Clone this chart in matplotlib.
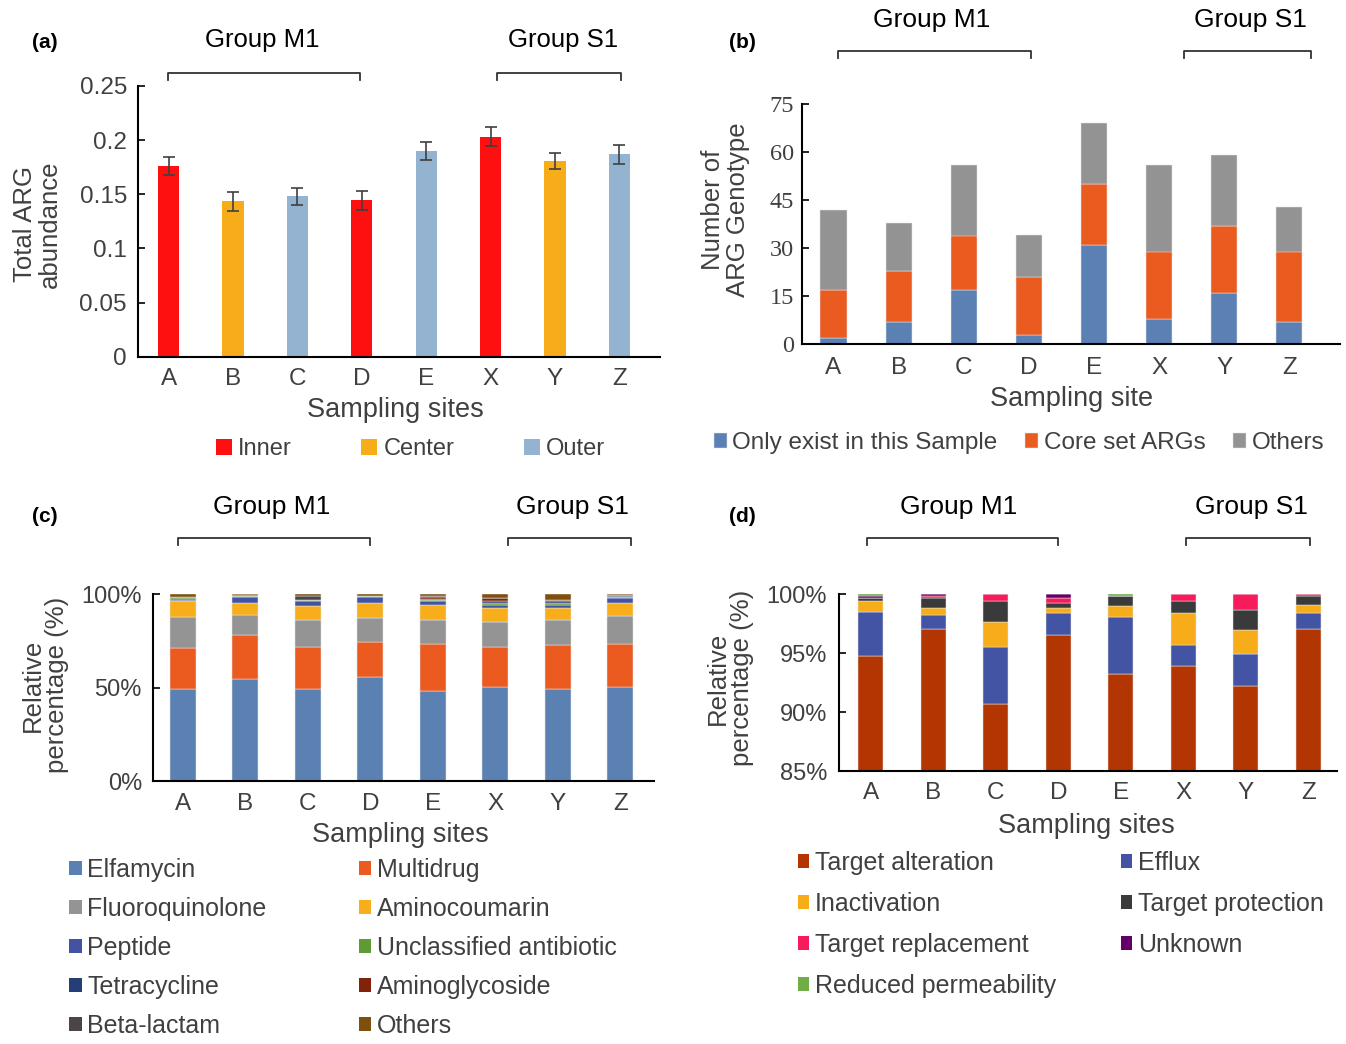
import matplotlib
matplotlib.use('Agg')
import matplotlib.pyplot as plt
from matplotlib.patches import Patch
from matplotlib.lines import Line2D
from matplotlib.transforms import blended_transform_factory
from matplotlib.ticker import FuncFormatter

plt.rcParams['font.family'] = ['Liberation Sans', 'DejaVu Sans']

W, H = 1346, 1044

# ---------------- data ----------------
sites = ['A', 'B', 'C', 'D', 'E', 'X', 'Y', 'Z']
group_names = ['Group M1', 'Group S1']

# (a) total ARG abundance
abundance = [0.176, 0.1435, 0.148, 0.1444, 0.190, 0.203, 0.1806, 0.187]
abundance_err = [0.0086, 0.0086, 0.008, 0.0088, 0.0079, 0.0088, 0.0077, 0.0086]
zone = ['Inner', 'Center', 'Outer', 'Inner', 'Outer', 'Inner', 'Center', 'Outer']
zone_names = ['Inner', 'Center', 'Outer']
zone_colors = ['#FF1010', '#F7AC1A', '#93B3D0']

# (b) number of ARG genotypes
only_exist = [2, 7, 17, 3, 31, 8, 16, 7]
core_set = [15, 16, 17, 18, 19, 21, 21, 22]
others_b = [25, 15, 22, 13, 19, 27, 22, 14]
b_names = ['Only exist in this Sample', 'Core set ARGs', 'Others']
b_colors = ['#5A80B4', '#EA5B20', '#939393']

# (c) relative percentage by drug class (%)
elfamycin = [49.5, 54.8, 49.5, 55.9, 48.4, 50.5, 49.5, 50.5]
multidrug = [21.6, 23.4, 22.5, 18.7, 25.2, 21.5, 23.4, 23.1]
fluoroquinolone = [16.9, 10.9, 14.4, 12.7, 12.8, 13.4, 13.5, 14.6]
aminocoumarin = [8.2, 6.3, 7.2, 8.1, 8.1, 7.3, 6.3, 7.2]
peptide = [0.8, 3.0, 3.0, 3.0, 1.8, 1.8, 1.8, 2.8]
unclassified = [0.9, 0.6, 0.2, 0.5, 0.8, 0.9, 0.9, 0.2]
tetracycline = [0.4, 0.2, 0.3, 0.2, 0.6, 0.9, 0.9, 0.6]
aminoglycoside = [0.2, 0.1, 0.1, 0.1, 1.0, 1.7, 0.8, 0.5]
beta_lactam = [0.3, 0.1, 1.7, 0.1, 0.2, 0.1, 0.1, 0.1]
others_c = [1.2, 0.6, 1.1, 0.7, 1.1, 1.9, 2.8, 0.4]
c_names = ['Elfamycin', 'Multidrug', 'Fluoroquinolone', 'Aminocoumarin', 'Peptide',
           'Unclassified antibiotic', 'Tetracycline', 'Aminoglycoside', 'Beta-lactam', 'Others']
c_colors = ['#5B81B3', '#EB5B20', '#949494', '#F8AE1B', '#4353A3',
            '#5F9B35', '#253E78', '#80230A', '#4B4448', '#7F4F0E']

# (d) relative percentage by resistance mechanism (%)
target_alteration = [94.8, 97.1, 90.7, 96.55, 93.25, 93.9, 92.25, 97.1]
efflux = [3.7, 1.15, 4.85, 1.85, 4.8, 1.8, 2.7, 1.3]
inactivation = [0.9, 0.6, 2.1, 0.44, 1.0, 2.7, 2.05, 0.72]
target_protection = [0.3, 0.85, 1.75, 0.43, 0.8, 1.0, 1.7, 0.72]
target_replacement = [0.0, 0.2, 0.6, 0.42, 0.0, 0.6, 1.3, 0.16]
unknown = [0.2, 0.1, 0.0, 0.31, 0.0, 0.0, 0.0, 0.0]
reduced_permeability = [0.1, 0.0, 0.0, 0.0, 0.15, 0.0, 0.0, 0.0]
d_names = ['Target alteration', 'Efflux', 'Inactivation', 'Target protection',
           'Target replacement', 'Unknown', 'Reduced permeability']
d_colors = ['#B33502', '#4254A3', '#F7AC1A', '#3A3A3A', '#F71B5B', '#630067', '#6FAD46']

TXT = '#404040'

fig = plt.figure(figsize=(W / 100, H / 100), dpi=100)


def px_axes(l, r, t, b):
    return fig.add_axes([l / W, 1 - b / H, (r - l) / W, (b - t) / H])


def fx(x):
    return x / W


def fy(y):
    return 1 - y / H


def style_axes(ax, ypad, xpad, ysize=17.5, xsize=17.5):
    for s in ['top', 'right']:
        ax.spines[s].set_visible(False)
    for s in ['left', 'bottom']:
        ax.spines[s].set_linewidth(1.5)
        ax.spines[s].set_color('black')
    ax.tick_params(axis='y', direction='in', length=5, width=1.2, pad=ypad,
                   labelsize=ysize, labelcolor=TXT)
    ax.tick_params(axis='x', length=0, pad=xpad, labelsize=xsize, labelcolor=TXT)


def decorate(ax, label, label_xy, brackets, text_x, brk_y, txt_y, xlabel, xlabel_xy,
             ylabel, ylabel_xy, gsize=18.5):
    fig.text(fx(label_xy[0]), fy(label_xy[1]), label, fontsize=15, fontweight='bold',
             ha='left', va='center', color='black')
    trans = blended_transform_factory(ax.transData, fig.transFigure)
    for (i0, i1), tx, name in zip(brackets, text_x, group_names):
        yb = fy(brk_y)
        yt = fy(brk_y + 7)
        ln = Line2D([i0, i0, i1, i1], [yt, yb, yb, yt], transform=trans,
                    color='#333333', lw=1.3, clip_on=False)
        ax.add_line(ln)
        ax.text(tx, fy(txt_y), name, transform=trans, ha='center',
                va='baseline', fontsize=gsize, color='black', clip_on=False)
    ax.set_xlabel(xlabel, fontsize=19.5, color=TXT)
    ax.xaxis.set_label_coords(fx(xlabel_xy[0]), fy(xlabel_xy[1]), transform=fig.transFigure)
    ax.xaxis.label.set_verticalalignment('baseline')
    ax.set_ylabel(ylabel, fontsize=18.5, color=TXT, linespacing=1.05)
    ax.yaxis.set_label_coords(fx(ylabel_xy[0]), fy(ylabel_xy[1]), transform=fig.transFigure)
    ax.yaxis.label.set_verticalalignment('center')


x = list(range(len(sites)))
EDGE = dict(edgecolor='#E6E6E6', linewidth=0.35)

# ---------------- (a) ----------------
axa = px_axes(138, 660, 86, 356.7)
cols_a = [zone_colors[zone_names.index(z)] for z in zone]
axa.bar(x, abundance, width=0.33, color=cols_a, zorder=2)
axa.errorbar(x, abundance, yerr=abundance_err, fmt='none', ecolor='#404040',
             elinewidth=1.2, capsize=4, capthick=1.2, zorder=3)
axa.set_xlim(-0.474, 7.63)
axa.set_ylim(0, 0.25)
axa.set_yticks([0, 0.05, 0.1, 0.15, 0.2, 0.25])
axa.set_yticklabels(['0', '0.05', '0.1', '0.15', '0.2', '0.25'])
axa.set_xticks(x)
axa.set_xticklabels(sites)
style_axes(axa, ypad=8, xpad=8)
decorate(axa, '(a)', (32, 42), [(-0.01, 2.97), (5.10, 7.03)], [1.46, 6.12], 73, 47,
         'Sampling sites', (395, 417), 'Total ARG\nabundance', (37.5, 224))
hand_a = [Patch(facecolor=c, edgecolor='none') for c in zone_colors]
axa.legend(hand_a, zone_names, loc='center left', bbox_to_anchor=(fx(216), fy(449)),
           bbox_transform=fig.transFigure, ncol=3, frameon=False, fontsize=17,
           handlelength=0.68, handleheight=0.68, handletextpad=0.25,
           columnspacing=2.95, borderpad=0, borderaxespad=0, labelcolor=TXT)

# ---------------- (b) ----------------
axb = px_axes(802, 1340, 104.3, 344.3)
bottom = [0] * len(sites)
for vals, col, name in zip([only_exist, core_set, others_b], b_colors, b_names):
    axb.bar(x, vals, bottom=bottom, width=0.4, color=col, label=name, zorder=2, **EDGE)
    bottom = [b + v for b, v in zip(bottom, vals)]
axb.set_xlim(-0.484, 7.78)
axb.set_ylim(0, 75)
axb.set_yticks([0, 15, 30, 45, 60, 75])
axb.set_xticks(x)
axb.set_xticklabels(sites)
style_axes(axb, ypad=5.5, xpad=9, ysize=17.5)
for lbl in axb.get_yticklabels():
    lbl.set_fontfamily(['Liberation Serif', 'DejaVu Serif'])
decorate(axb, '(b)', (729, 42), [(0.07, 3.03), (5.38, 7.33)], [1.5, 6.4], 50.7, 27,
         'Sampling site', (1071.5, 406), 'Number of\nARG Genotype', (725.5, 209.5), gsize=19)
axb.legend(loc='center left', bbox_to_anchor=(fx(714), fy(443)),
           bbox_transform=fig.transFigure, ncol=3, frameon=False, fontsize=17.5,
           handlelength=0.53, handleheight=0.53, handletextpad=0.22,
           columnspacing=1.15, borderpad=0, borderaxespad=0, labelcolor=TXT)

pct = FuncFormatter(lambda v, p: f'{v:.0f}%')

# ---------------- (c) ----------------
axc = px_axes(153, 654, 594.3, 781)
series_c = [elfamycin, multidrug, fluoroquinolone, aminocoumarin, peptide,
            unclassified, tetracycline, aminoglycoside, beta_lactam, others_c]
bottom = [0] * len(sites)
for vals, col, name in zip(series_c, c_colors, c_names):
    axc.bar(x, vals, bottom=bottom, width=0.41, color=col, label=name, zorder=2, **EDGE)
    bottom = [b + v for b, v in zip(bottom, vals)]
axc.set_xlim(-0.477, 7.54)
axc.set_ylim(0, 100)
axc.set_yticks([0, 50, 100])
axc.yaxis.set_major_formatter(pct)
axc.set_xticks(x)
axc.set_xticklabels(sites)
style_axes(axc, ypad=8, xpad=8.5, ysize=17)
decorate(axc, '(c)', (32, 516), [(-0.08, 3.0), (5.21, 7.17)], [1.42, 6.23], 537.6, 514,
         'Sampling sites', (400.5, 842), 'Relative\npercentage (%)', (45, 685), gsize=19)
order_c = [0, 2, 4, 6, 8, 1, 3, 5, 7, 9]
hand_c = [Patch(facecolor=c_colors[i], edgecolor='none') for i in order_c]
axc.legend(hand_c, [c_names[i] for i in order_c], loc='upper left',
           bbox_to_anchor=(fx(69), fy(858)), bbox_transform=fig.transFigure,
           ncol=2, frameon=False, fontsize=18, handlelength=0.5, handleheight=0.5,
           handletextpad=0.22, columnspacing=3.7, labelspacing=0.6,
           borderpad=0, borderaxespad=0, labelcolor=TXT)

# ---------------- (d) ----------------
axd = px_axes(839, 1337, 594.4, 771.4)
series_d = [target_alteration, efflux, inactivation, target_protection,
            target_replacement, unknown, reduced_permeability]
bottom = [0] * len(sites)
for vals, col, name in zip(series_d, d_colors, d_names):
    axd.bar(x, vals, bottom=bottom, width=0.4, color=col, label=name, zorder=2, **EDGE)
    bottom = [b + v for b, v in zip(bottom, vals)]
axd.set_xlim(-0.51, 7.46)
axd.set_ylim(85, 100)
axd.set_yticks([85, 90, 95, 100])
axd.yaxis.set_major_formatter(pct)
axd.set_xticks(x)
axd.set_xticklabels(sites)
style_axes(axd, ypad=8.5, xpad=7.5, ysize=17)
decorate(axd, '(d)', (729, 516), [(-0.06, 3.0), (5.05, 7.02)], [1.41, 6.09], 537.6, 514,
         'Sampling sites', (1086.5, 833), 'Relative\npercentage (%)', (730, 678), gsize=19)
order_d = [0, 2, 4, 6, 1, 3, 5]
hand_d = [Patch(facecolor=d_colors[i], edgecolor='none') for i in order_d]
axd.legend(hand_d, [d_names[i] for i in order_d], loc='upper left',
           bbox_to_anchor=(fx(797.6), fy(851)), bbox_transform=fig.transFigure,
           ncol=2, frameon=False, fontsize=18, handlelength=0.46, handleheight=0.5,
           handletextpad=0.22, columnspacing=2.6, labelspacing=0.68,
           borderpad=0, borderaxespad=0, labelcolor=TXT)

fig.savefig('out.png', dpi=100)
